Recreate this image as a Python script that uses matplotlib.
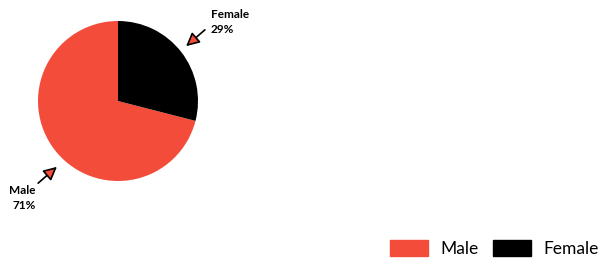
import matplotlib.pyplot as plt
from matplotlib.patches import Patch

labels = ['Male', 'Female']
values = [71, 29]
colors = ['#f44c3a', '#000000']

plt.rcParams['font.family'] = ['Lato', 'DejaVu Sans']

fig = plt.figure(figsize=(6.02, 2.62), dpi=100)
ax = fig.add_axes([0, 0, 1, 1])

# pie in pixel coords (y flipped)
ax.pie(values, colors=colors, startangle=90, counterclock=True,
       center=(118, 161), radius=80, frame=True)
ax.set_xlim(0, 602)
ax.set_ylim(0, 262)
ax.set_aspect('equal')
ax.axis('off')

arrow = dict(arrowstyle='-|>', fc='#f44c3a', ec='black', lw=1.2, mutation_scale=20)
ax.annotate('', xy=(184, 214), xytext=(207, 234), arrowprops=arrow)
ax.annotate('', xy=(59, 97), xytext=(36, 77), arrowprops=arrow)

ax.text(211, 240, f'{labels[1]}\n{values[1]}%', ha='left', va='center',
        fontsize=8.5, fontweight='bold', linespacing=1.35)
ax.text(36, 64, f'{labels[0]}\n{values[0]}%', ha='right', va='center',
        fontsize=8.5, fontweight='bold', linespacing=1.35)

handles = [Patch(color=c) for c in colors]
fig.legend(handles, labels, loc='lower right', bbox_to_anchor=(1.02, -0.04),
           ncol=2, frameon=False, fontsize=12.5, handlelength=2.2, handleheight=1.0,
           columnspacing=0.8, handletextpad=0.7)

fig.savefig('out.png', dpi=100)
